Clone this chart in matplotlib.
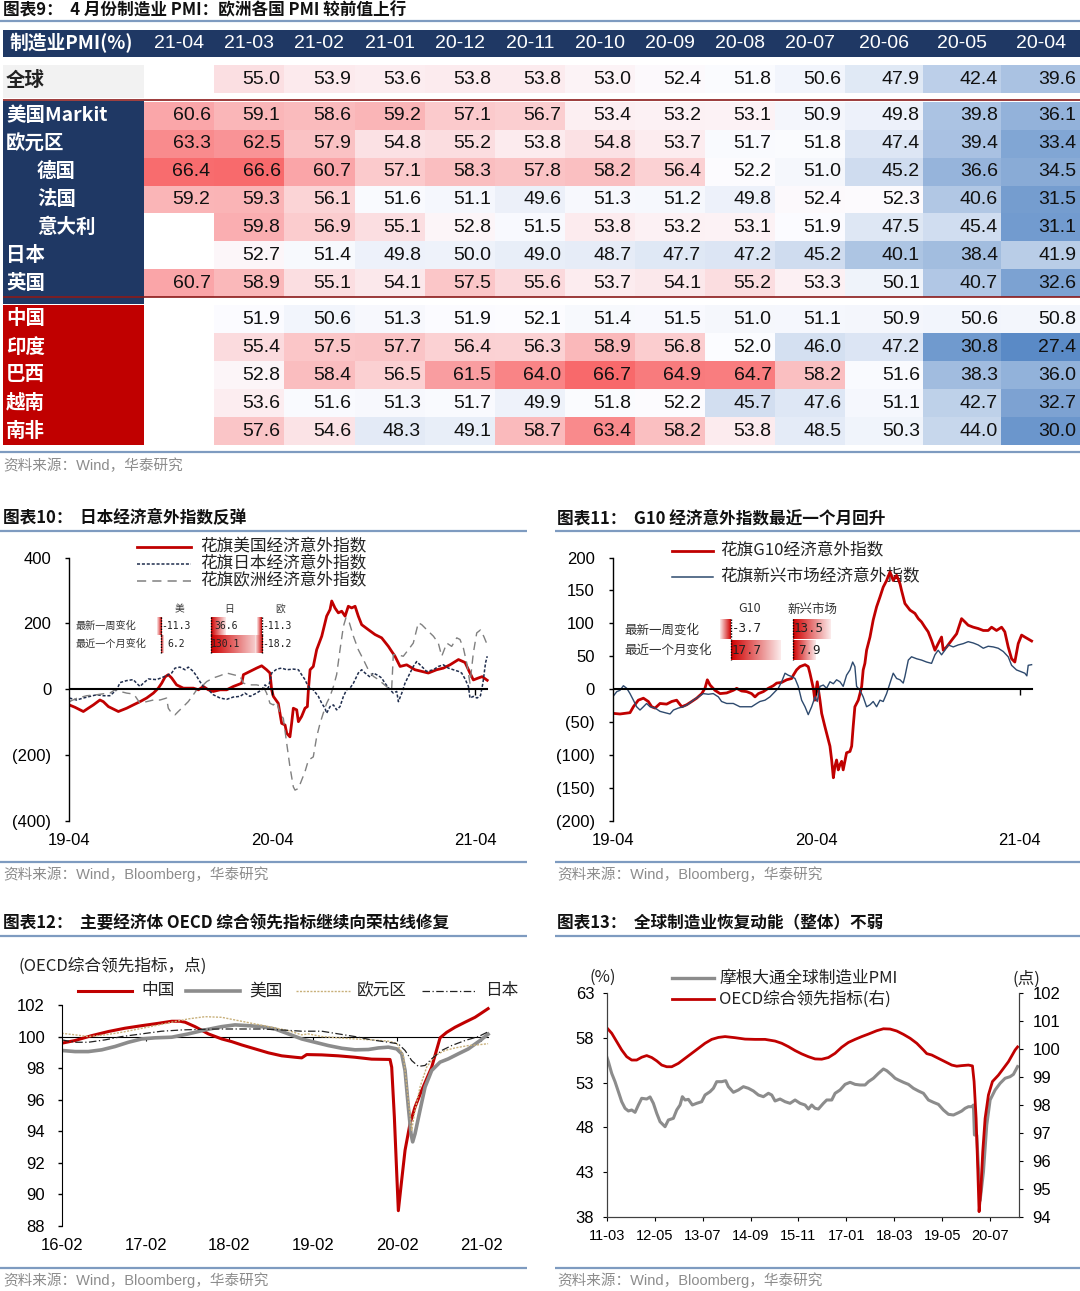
import numpy as np
import matplotlib
matplotlib.use('Agg')
import matplotlib.pyplot as plt
from matplotlib.patches import Rectangle
from matplotlib.colors import to_rgb

plt.rcParams['font.family'] = ['Liberation Sans', 'Noto Sans CJK SC']
plt.rcParams['axes.unicode_minus'] = False
CJK = ['Noto Sans CJK SC', 'Liberation Sans']
W, H = 1080, 1291

# ---------------- table data (PMI) ----------------
months = ['21-04', '21-03', '21-02', '21-01', '20-12', '20-11', '20-10',
          '20-09', '20-08', '20-07', '20-06', '20-05', '20-04']
pmi_global = [None, 55.0, 53.9, 53.6, 53.8, 53.8, 53.0, 52.4, 51.8, 50.6, 47.9, 42.4, 39.6]
pmi_us = [60.6, 59.1, 58.6, 59.2, 57.1, 56.7, 53.4, 53.2, 53.1, 50.9, 49.8, 39.8, 36.1]
pmi_ez = [63.3, 62.5, 57.9, 54.8, 55.2, 53.8, 54.8, 53.7, 51.7, 51.8, 47.4, 39.4, 33.4]
pmi_de = [66.4, 66.6, 60.7, 57.1, 58.3, 57.8, 58.2, 56.4, 52.2, 51.0, 45.2, 36.6, 34.5]
pmi_fr = [59.2, 59.3, 56.1, 51.6, 51.1, 49.6, 51.3, 51.2, 49.8, 52.4, 52.3, 40.6, 31.5]
pmi_it = [None, 59.8, 56.9, 55.1, 52.8, 51.5, 53.8, 53.2, 53.1, 51.9, 47.5, 45.4, 31.1]
pmi_jp = [None, 52.7, 51.4, 49.8, 50.0, 49.0, 48.7, 47.7, 47.2, 45.2, 40.1, 38.4, 41.9]
pmi_uk = [60.7, 58.9, 55.1, 54.1, 57.5, 55.6, 53.7, 54.1, 55.2, 53.3, 50.1, 40.7, 32.6]
pmi_cn = [None, 51.9, 50.6, 51.3, 51.9, 52.1, 51.4, 51.5, 51.0, 51.1, 50.9, 50.6, 50.8]
pmi_in = [None, 55.4, 57.5, 57.7, 56.4, 56.3, 58.9, 56.8, 52.0, 46.0, 47.2, 30.8, 27.4]
pmi_br = [None, 52.8, 58.4, 56.5, 61.5, 64.0, 66.7, 64.9, 64.7, 58.2, 51.6, 38.3, 36.0]
pmi_vn = [None, 53.6, 51.6, 51.3, 51.7, 49.9, 51.8, 52.2, 45.7, 47.6, 51.1, 42.7, 32.7]
pmi_za = [None, 57.6, 54.6, 48.3, 49.1, 58.7, 63.4, 58.2, 53.8, 48.5, 50.3, 44.0, 30.0]

dev_rows = [('美国Markit', pmi_us, 0), ('欧元区', pmi_ez, 0), ('德国', pmi_de, 1),
            ('法国', pmi_fr, 1), ('意大利', pmi_it, 1), ('日本', pmi_jp, 0), ('英国', pmi_uk, 0)]
em_rows = [('中国', pmi_cn), ('印度', pmi_in), ('巴西', pmi_br), ('越南', pmi_vn), ('南非', pmi_za)]

# ---------------- chart 10: Citi surprise (months since 19-04, value) ----------------
us_csi = [(0, -48), (0.33, -55), (0.83, -68), (1.12, -58), (1.42, -48), (1.81, -33), (2.01, -38), (2.31, -53),
          (2.90, -68), (3.39, -58), (3.78, -48), (4.18, -38), (4.57, -27), (4.97, -12), (5.26, 3), (5.46, 18),
          (5.66, 37), (5.85, 44), (6.05, 34), (6.34, 13), (6.74, 3), (7.33, 3), (7.63, -2), (7.92, 8),
          (8.22, -2), (8.51, -7), (8.91, -2), (9.30, -2), (9.69, 8), (10.19, 18), (10.29, 44), (10.68, 54),
          (11.07, 64), (11.37, 71), (11.66, 59), (11.86, 49), (11.96, -2), (12.06, -22), (12.35, -43),
          (12.55, -104), (12.75, -109), (12.85, -134), (13.04, -145), (13.14, -104), (13.24, -58), (13.44, -63),
          (13.54, -99), (13.73, -83), (13.93, -58), (14.07, -53), (14.13, -2), (14.23, 59), (14.42, 69),
          (14.62, 120), (14.92, 161), (15.21, 222), (15.41, 242), (15.51, 268), (15.70, 247), (15.90, 232),
          (16.10, 237), (16.30, 222), (16.49, 252), (16.69, 247), (16.89, 252), (17.08, 222), (17.28, 196),
          (17.67, 181), (18.07, 166), (18.46, 156), (18.86, 130), (19.05, 115), (19.25, 100), (19.55, 69),
          (19.94, 74), (20.43, 59), (20.83, 54), (21.22, 49), (21.71, 59), (22.11, 64), (22.50, 74), (23.0, 90),
          (23.39, 81), (23.59, 59), (23.88, 28), (24.18, 34), (24.4, 38), (24.7, 27)]
jp_csi = [(0, -27), (0.43, -33), (0.83, -27), (1.22, -22), (1.62, -17), (2.01, -20), (2.40, -20), (2.80, -2),
          (3.0, 20), (3.39, 26), (3.78, 29), (3.98, 18), (4.18, 8), (4.37, 18), (4.67, 31), (5.16, 29), (5.56, 37),
          (5.75, 41), (6.05, 49), (6.25, 64), (6.54, 67), (6.84, 59), (7.03, 67), (7.33, 54), (7.53, 39),
          (7.72, 23), (7.92, 8), (8.22, -2), (8.51, -17), (8.91, -27), (9.30, -31), (9.69, -24), (10.09, -22),
          (10.38, -12), (10.68, -22), (11.07, -12), (11.37, -2), (11.57, 13), (11.76, 3), (11.96, 49), (12.26, 61),
          (12.55, 64), (12.85, 59), (13.24, 61), (13.54, 59), (13.73, 44), (13.93, 29), (14.07, 13), (14.23, 3),
          (14.42, -2), (14.72, -22), (14.92, -43), (15.11, -58), (15.21, -73), (15.41, -53), (15.61, -48),
          (15.80, -63), (16.0, -53), (16.20, -22), (16.39, -2), (16.59, 3), (16.79, 18), (17.08, 49), (17.28, 59),
          (17.48, 49), (17.77, 37), (17.97, 49), (18.27, 41), (18.46, 34), (18.66, 18), (18.96, -2), (19.15, -12),
          (19.35, -7), (19.45, -38), (19.65, -12), (19.84, 18), (20.04, 39), (20.33, 69), (20.53, 84), (20.83, 69),
          (21.12, 54), (21.52, 59), (21.81, 69), (22.11, 74), (22.40, 64), (22.70, 59), (23.0, 54), (23.19, 49),
          (23.39, 31), (23.59, 8), (23.68, -27), (23.88, -22), (24.1, -27), (24.3, -20), (24.45, 20), (24.6, 80),
          (24.7, 100)]
eu_csi = [(0, -38), (0.43, -28), (1.02, -20), (1.62, -17), (2.01, -14), (2.40, -12), (2.70, -2), (3.0, -7),
          (3.39, -12), (3.68, -14), (3.88, -20), (4.18, -43), (4.57, -38), (4.97, -33), (5.36, -33), (5.75, -27),
          (5.85, -58), (6.05, -73), (6.25, -78), (6.44, -68), (6.74, -53), (7.03, -38), (7.33, -17), (7.53, -2),
          (7.82, 8), (8.12, 23), (8.51, 34), (8.91, 41), (9.30, 49), (9.69, 44), (10.09, 39), (10.29, 18),
          (10.68, 13), (11.07, 13), (11.47, 8), (11.66, -12), (11.86, -43), (12.06, -48), (12.26, -38),
          (12.45, -73), (12.65, -89), (12.85, -165), (13.04, -236), (13.24, -297), (13.34, -307), (13.54, -302),
          (13.73, -277), (13.93, -251), (14.13, -216), (14.42, -206), (14.62, -145), (14.82, -104), (15.01, -73),
          (15.21, -43), (15.41, -22), (15.61, 8), (15.80, 44), (16.0, 120), (16.20, 191), (16.35, 217),
          (16.55, 202), (16.79, 161), (17.08, 120), (17.38, 90), (17.67, 59), (17.97, 39), (18.27, 29),
          (18.56, 16), (18.86, 3), (19.05, -2), (19.15, 105), (19.35, 105), (19.74, 100), (20.04, 120),
          (20.33, 140), (20.63, 202), (20.83, 196), (21.12, 181), (21.52, 161), (21.81, 140), (22.01, 100),
          (22.31, 140), (22.60, 130), (22.90, 156), (23.09, 151), (23.29, 125), (23.49, 79), (23.68, 18),
          (23.88, 110), (24.08, 171), (24.3, 180), (24.5, 160), (24.7, 135)]
c10_cols = ['美', '日', '欧']
c10_week = [-11.3, 36.6, -11.3]
c10_month = [6.2, 130.1, -18.2]

# ---------------- chart 11 ----------------
g10_csi = [(0, -37), (0.43, -38), (1.02, -36), (1.22, -27), (1.51, -17), (1.81, -14), (2.10, -19), (2.30, -27),
           (2.50, -29), (2.79, -22), (3.18, -23), (3.48, -19), (3.77, -17), (4.07, -27), (4.36, -24), (4.66, -19),
           (4.95, -14), (5.25, -7), (5.44, 1), (5.58, 14), (5.74, 6), (6.03, -2), (6.33, -7), (6.72, -6),
           (7.11, -2), (7.31, 1), (7.60, -3), (7.90, -4), (8.19, -7), (8.39, -12), (8.59, -7), (8.88, -4),
           (9.17, 1), (9.47, 5), (9.67, 9), (9.96, 10), (10.26, 14), (10.55, 16), (10.65, 21), (10.84, 29),
           (11.04, 34), (11.34, 37), (11.53, 34), (11.63, 24), (11.83, 1), (11.92, -17), (12.06, 11), (12.22, -17),
           (12.32, -37), (12.51, -57), (12.61, -67), (12.81, -87), (12.91, -108), (13.01, -135), (13.10, -118),
           (13.20, -108), (13.30, -123), (13.40, -115), (13.50, -110), (13.59, -123), (13.79, -97), (13.99, -95),
           (14.09, -87), (14.18, -57), (14.28, -27), (14.38, -22), (14.48, -17), (14.58, -7), (14.68, 4),
           (14.77, 29), (14.87, 39), (14.97, 59), (15.17, 79), (15.36, 105), (15.56, 125), (15.76, 140),
           (15.95, 155), (16.15, 165), (16.35, 178), (16.54, 165), (16.74, 173), (16.94, 160), (17.03, 150),
           (17.23, 130), (17.53, 120), (17.82, 115), (18.02, 107), (18.21, 102), (18.41, 94), (18.60, 87),
           (18.80, 74), (19.0, 59), (19.19, 69), (19.39, 79), (19.49, 59), (19.69, 64), (19.98, 74), (20.28, 84),
           (20.57, 107), (20.77, 102), (20.96, 97), (21.26, 94), (21.55, 92), (21.85, 89), (22.14, 89),
           (22.34, 94), (22.63, 89), (22.93, 94), (23.12, 87), (23.32, 64), (23.52, 46), (23.71, 41), (23.91, 69),
           (24.11, 82), (24.30, 79), (24.5, 76), (24.7, 73)]
em_csi = [(0, -12), (0.24, -4), (0.43, -2), (0.63, 5), (0.83, 1), (1.02, -7), (1.22, -17), (1.41, -27),
          (1.61, -32), (1.81, -27), (2.0, -22), (2.20, -27), (2.50, -29), (2.79, -34), (3.08, -36), (3.38, -38),
          (3.58, -32), (3.87, -29), (4.17, -27), (4.46, -23), (4.75, -17), (5.05, -12), (5.34, -7), (5.64, -8),
          (5.93, -7), (6.23, -12), (6.42, -19), (6.72, -22), (7.11, -22), (7.50, -27), (7.90, -27), (8.19, -27),
          (8.49, -22), (8.68, -19), (8.98, -17), (9.27, -12), (9.57, -4), (9.76, 1), (9.96, 11), (10.16, 24),
          (10.35, 21), (10.55, 19), (10.75, 16), (10.94, 4), (11.14, -17), (11.34, -27), (11.53, -39),
          (11.73, -27), (11.93, -12), (12.06, -19), (12.22, 4), (12.42, 6), (12.61, 1), (12.81, 11), (13.01, 8),
          (13.20, 14), (13.40, 11), (13.59, 4), (13.79, 21), (13.99, 29), (14.15, 41), (14.28, 34), (14.38, 4),
          (14.58, -2), (14.77, -12), (14.97, -27), (15.17, -24), (15.36, -19), (15.56, -27), (15.76, -17),
          (15.95, -19), (16.15, -7), (16.35, 9), (16.54, 24), (16.74, 16), (16.94, 14), (17.13, 9), (17.23, 19),
          (17.43, 44), (17.62, 49), (17.92, 46), (18.21, 44), (18.51, 41), (18.80, 39), (19.0, 52), (19.19, 59),
          (19.39, 52), (19.59, 59), (19.78, 67), (20.08, 64), (20.37, 67), (20.67, 69), (20.96, 72), (21.26, 70),
          (21.55, 67), (21.85, 62), (22.14, 65), (22.44, 64), (22.73, 62), (23.03, 57), (23.32, 49), (23.52, 36),
          (23.81, 29), (24.11, 26), (24.30, 24), (24.42, 20), (24.5, 36), (24.7, 37)]
c11_cols = ['G10', '新兴市场']
c11_week = [-3.7, 13.5]
c11_month = [17.7, 7.9]

# ---------------- chart 12: OECD CLI (months since 16-02) ----------------
cli_cn = [(0, 99.58), (1.91, 99.75), (4.29, 100.06), (6.68, 100.32), (9.06, 100.53), (11.44, 100.69),
          (13.83, 100.84), (15.74, 100.97), (16.93, 100.97), (17.65, 100.91), (19.07, 100.63), (20.98, 100.17),
          (22.89, 99.85), (24.32, 99.68), (25.75, 99.47), (27.66, 99.22), (29.57, 98.97), (31.48, 98.78),
          (33.38, 98.69), (34.34, 98.65), (35.05, 98.86), (37.20, 98.84), (39.58, 98.78), (41.96, 98.69),
          (44.35, 98.57), (46.97, 98.55), (47.21, 98.06), (47.59, 94.91), (47.93, 91.33), (48.16, 88.97),
          (48.64, 90.91), (49.12, 92.80), (49.83, 94.48), (50.55, 95.54), (51.50, 96.59), (52.93, 98.06),
          (54.13, 99.92), (55.08, 100.27), (56.27, 100.59), (57.70, 100.91), (59.13, 101.22), (59.85, 101.43),
          (61.0, 101.77)]
cli_us = [(0, 99.12), (1.91, 99.05), (3.81, 99.05), (5.72, 99.16), (7.63, 99.37), (9.54, 99.64), (11.44, 99.85),
          (13.35, 99.92), (15.74, 99.96), (18.12, 100.17), (20.51, 100.42), (22.89, 100.63), (24.80, 100.74),
          (26.71, 100.69), (28.61, 100.63), (30.52, 100.48), (32.43, 100.17), (34.34, 99.85), (36.24, 99.64),
          (38.15, 99.43), (40.06, 99.26), (41.96, 99.16), (43.87, 99.18), (45.30, 99.28), (46.73, 99.33),
          (47.93, 99.22), (48.64, 98.91), (49.12, 97.85), (49.59, 95.54), (49.97, 93.85), (50.21, 93.33),
          (50.55, 93.85), (51.26, 95.33), (51.98, 96.80), (52.93, 97.85), (54.13, 98.38), (55.32, 98.59),
          (56.75, 98.91), (58.18, 99.22), (59.85, 99.75), (61.0, 100.15)]
cli_ez = [(0, 100.21), (1.91, 100.11), (3.81, 100.0), (6.2, 100.11), (8.58, 100.27), (10.97, 100.48),
          (13.35, 100.69), (15.74, 100.91), (18.12, 101.12), (20.51, 101.26), (22.89, 101.22), (25.27, 101.01),
          (27.66, 100.80), (30.04, 100.59), (32.43, 100.38), (34.34, 100.11), (35.29, 100.17), (37.20, 100.0),
          (39.58, 99.92), (41.96, 99.85), (44.35, 99.79), (46.73, 99.71), (47.93, 99.58), (48.88, 98.80),
          (49.59, 95.96), (50.07, 94.06), (50.55, 95.33), (51.26, 96.80), (52.21, 98.06), (53.41, 98.80),
          (54.84, 99.12), (56.27, 99.28), (58.18, 99.43), (59.85, 99.49), (61.0, 99.55)]
cli_jp = [(0, 99.79), (1.91, 99.64), (3.81, 99.64), (6.2, 99.79), (8.58, 100.0), (11.44, 100.17), (14.31, 100.34),
          (17.17, 100.42), (20.03, 100.46), (22.89, 100.48), (25.75, 100.48), (28.61, 100.48), (31.48, 100.42),
          (34.34, 100.34), (37.20, 100.34), (39.58, 100.17), (41.96, 100.0), (44.35, 99.79), (46.73, 99.64),
          (48.16, 99.54), (49.12, 99.12), (50.07, 98.48), (51.03, 98.11), (51.98, 98.17), (52.93, 98.59),
          (54.36, 99.12), (55.79, 99.43), (57.70, 99.75), (59.61, 100.0), (61.0, 100.3)]

# ---------------- chart 13 (months since 11-03) ----------------
jpm_pmi = [(0, 55.91), (0.49, 55.35), (1.46, 54.04), (2.43, 53.11), (3.41, 51.99), (4.38, 50.87), (5.36, 50.13),
           (6.33, 49.83), (7.30, 49.94), (8.28, 49.68), (9.25, 50.50), (10.22, 51.25), (11.68, 51.17),
           (12.66, 51.40), (13.63, 50.69), (14.61, 49.57), (15.58, 48.63), (17.04, 48.07), (18.01, 48.82),
           (19.47, 49.01), (20.45, 49.94), (21.42, 50.50), (22.10, 51.43), (22.88, 51.06), (23.86, 51.13),
           (25.02, 50.50), (26.29, 50.69), (27.75, 50.87), (28.72, 51.62), (30.18, 51.99), (31.16, 52.37),
           (32.13, 53.11), (33.59, 53.11), (34.76, 53.22), (35.54, 52.55), (37.0, 51.92), (38.46, 52.18),
           (39.92, 52.55), (41.38, 52.37), (42.84, 52.07), (44.30, 51.62), (45.76, 51.43), (47.22, 51.81),
           (48.20, 51.62), (49.17, 50.95), (50.63, 51.17), (52.09, 50.87), (53.55, 50.69), (55.01, 51.06),
           (56.48, 50.69), (57.94, 50.50), (58.91, 50.05), (59.88, 50.50), (60.86, 50.13), (61.83, 50.05),
           (63.29, 50.69), (64.26, 51.06), (65.73, 51.06), (66.70, 51.81), (68.16, 52.18), (69.62, 52.81),
           (71.08, 53.04), (72.54, 52.81), (74.0, 52.74), (75.46, 52.74), (76.44, 53.11), (77.90, 53.49),
           (79.36, 54.04), (80.82, 54.53), (81.79, 54.34), (83.25, 53.86), (84.23, 53.49), (85.20, 53.30),
           (86.66, 53.04), (88.12, 52.81), (89.58, 52.37), (91.04, 52.07), (92.50, 51.81), (93.96, 51.06),
           (95.42, 50.80), (96.88, 50.57), (98.34, 49.94), (99.81, 49.46), (101.27, 49.38), (102.73, 49.64),
           (103.70, 49.83), (104.67, 50.13), (105.65, 50.31), (106.62, 50.31), (107.11, 50.50), (107.40, 47.14),
           (108.08, 47.14), (109.06, 39.8), (110.03, 43.0), (111.0, 48.26), (111.98, 51.06), (112.46, 51.43),
           (113.44, 52.18), (114.90, 52.93), (116.36, 53.49), (117.82, 53.67), (118.79, 53.93), (120.0, 54.8)]
cli_total = [(0, 100.77), (1.46, 100.57), (2.92, 100.27), (4.38, 99.97), (5.84, 99.73), (7.30, 99.61),
             (8.76, 99.61), (10.22, 99.71), (11.68, 99.77), (13.15, 99.70), (14.61, 99.58), (16.07, 99.43),
             (17.53, 99.37), (18.99, 99.37), (20.93, 99.49), (22.88, 99.67), (24.83, 99.85), (26.78, 100.03),
             (28.72, 100.21), (30.67, 100.35), (32.62, 100.42), (34.57, 100.45), (37.49, 100.41), (40.41, 100.36),
             (43.33, 100.35), (46.25, 100.35), (49.17, 100.29), (51.12, 100.21), (53.07, 100.09), (55.01, 99.95),
             (56.96, 99.83), (58.91, 99.73), (60.86, 99.65), (62.80, 99.64), (64.75, 99.70), (66.70, 99.85),
             (68.65, 100.07), (70.59, 100.24), (72.54, 100.35), (74.49, 100.45), (76.44, 100.54), (78.87, 100.66),
             (80.82, 100.73), (82.77, 100.72), (84.71, 100.65), (86.66, 100.53), (88.61, 100.39), (90.56, 100.21),
             (92.50, 99.97), (93.48, 99.84), (94.94, 99.79), (96.88, 99.67), (98.83, 99.55), (100.78, 99.43),
             (102.24, 99.39), (103.70, 99.41), (105.65, 99.43), (106.82, 99.40), (107.30, 98.84), (107.89, 97.52),
             (108.37, 95.73), (108.76, 94.18), (109.25, 94.90), (109.83, 96.33), (110.52, 97.52), (111.49, 98.36),
             (112.66, 98.84), (114.41, 99.07), (115.87, 99.31), (117.33, 99.55), (119.28, 99.97), (120.0, 100.08)]

NAVY = '#1F3864'
RED = '#C00000'
LINE = '#7E9BC0'
SRC = '#8C8C8C'

fig = plt.figure(figsize=(W / 100, H / 100), dpi=100)
bg = fig.add_axes([0, 0, 1, 1])
bg.set_xlim(0, W)
bg.set_ylim(H, 0)
bg.set_autoscale_on(False)
bg.axis('off')


def px_axes(l, t, r, b):
    ax = fig.add_axes([l / W, 1 - b / H, (r - l) / W, (b - t) / H])
    ax.patch.set_alpha(0)
    return ax


def title(x, y, s):
    bg.text(x, y, s, fontsize=12, fontweight='bold', family=CJK, va='center', ha='left', color='#111111')


def hline(x0, x1, y, color=LINE, lw=1.6):
    bg.plot([x0, x1], [y, y], color=color, lw=lw, solid_capstyle='butt')


def source(x, y, s):
    bg.text(x, y, s, fontsize=10.5, color=SRC, va='center', ha='left')


# ================= table =================
title(3, 10, '图表9：  4 月份制造业 PMI：欧洲各国 PMI 较前值上行')
hline(0, W, 21)

col_edges = [144, 214, 284, 354.5, 424.5, 494.8, 564.8, 634.7, 704.6, 775.2, 845.1, 923.3, 1001.4, 1080]
all_vals = np.array([v for r in [pmi_global] + [d[1] for d in dev_rows] + [e[1] for e in em_rows]
                     for v in r if v is not None])
vmin, vmid, vmax = all_vals.min(), np.percentile(all_vals, 50), all_vals.max()
c_lo, c_mid, c_hi = np.array(to_rgb('#5A8AC6')), np.array(to_rgb('#FCFCFF')), np.array(to_rgb('#F8696B'))


def cell_color(v):
    if v >= vmid:
        return c_mid + (c_hi - c_mid) * (v - vmid) / (vmax - vmid)
    return c_mid + (c_lo - c_mid) * (vmid - v) / (vmid - vmin)


def value_row(vals, top, bottom):
    for j, v in enumerate(vals):
        if v is None:
            continue
        x0, x1 = col_edges[j], col_edges[j + 1]
        bg.add_patch(Rectangle((x0, top), x1 - x0, bottom - top, color=cell_color(v), lw=0))
        bg.text(x1 - 3.5, (top + bottom) / 2, f'{v:.1f}', fontsize=14, ha='right', va='center', color='#111111')


# header
bg.add_patch(Rectangle((3, 30), W - 3, 27, color=NAVY, lw=0))
bg.text(10, 43.5, '制造业PMI(%)', fontsize=13.5, fontweight='bold', family=CJK, color='white', va='center')
for j, m in enumerate(months):
    bg.text((col_edges[j] + col_edges[j + 1]) / 2, 44, m, fontsize=14, color='white', ha='center', va='center')

# global row
bg.add_patch(Rectangle((3, 65), 141, 33, color='#F2F2F2', lw=0))
bg.text(6, 80, '全球', fontsize=14, fontweight='bold', family=CJK, color='#222222', va='center')
value_row(pmi_global, 65, 93)

# developed block
hline(3, W, 100, color='#8B1A1A', lw=1.2)
bg.add_patch(Rectangle((3, 101), 141, 203, color=NAVY, lw=0))
rh = (297 - 102) / len(dev_rows)
for i, (name, vals, indent) in enumerate(dev_rows):
    top = 102 + i * rh
    value_row(vals, top, top + rh)
    bg.text(37 if indent else 6, top + rh / 2, name, fontsize=14, fontweight='bold', family=CJK,
            color='white', va='center')
hline(3, W, 297, color='#8B1A1A', lw=1.2)

# emerging block
bg.add_patch(Rectangle((3, 304.5), 141, 140.5, color=RED, lw=0))
for i, (name, vals) in enumerate(em_rows):
    top = 305 + i * 28
    value_row(vals, top, top + 28)
    bg.text(6, top + 14, name, fontsize=14, fontweight='bold', family=CJK, color='white', va='center')
hline(0, W, 452)
source(3, 466, '资料来源：Wind，华泰研究')


# ================= helpers for mini tables =================
def data_bar(x_axis, val, scale, y0, y1):
    w = val * scale
    t = np.linspace(0, 1, 64)[:, None]
    cols = (1 - 0.92 * t) * np.array(to_rgb('#D00000')) + 0.92 * t * np.ones(3)
    if w < 0:
        cols = cols[::-1]
    left, right = min(x_axis, x_axis + w), max(x_axis, x_axis + w)
    bg.imshow(cols[None, :, :], extent=(left, right, y1, y0), aspect='auto', interpolation='bilinear', zorder=2)
    bg.plot([x_axis, x_axis], [y0, y1], color='black', lw=1, ls=(0, (1, 1)), zorder=3)


def csi_axes(ax, labels_y, ticks_y):
    for s in ['top', 'right', 'bottom']:
        ax.spines[s].set_visible(False)
    ax.spines['left'].set_linewidth(1)
    ax.set_xlim(0, 25)
    ax.set_yticks(ticks_y)
    ax.set_yticklabels(labels_y)
    ax.set_xticks([0, 12, 24])
    ax.set_xticklabels(['19-04', '20-04', '21-04'])
    ax.tick_params(axis='x', length=0, pad=9, labelsize=12)
    ax.tick_params(axis='y', length=3, width=1, pad=10, labelsize=12, direction='out')


# ================= chart 10 =================
title(3, 518, '图表10：  日本经济意外指数反弹')
hline(0, 527, 531)
ax10 = px_axes(69.3, 557.6, 69.3 + 25 * 16.92, 820.7)
ax10.set_ylim(-400, 400)
csi_axes(ax10, ['400', '200', '0', '(200)', '(400)'], [400, 200, 0, -200, -400])
for series, kw in [(us_csi, dict(color=RED, lw=2.0)),
                   (jp_csi, dict(color='#1F2D4D', lw=1.1, dashes=(2, 1.2))),
                   (eu_csi, dict(color='#808080', lw=1.0, dashes=(6, 4)))]:
    x, y = np.array(series).T
    ax10.plot(x, y, **kw)
end10 = max(np.array(us_csi)[:, 0].max(), np.array(eu_csi)[:, 0].max())
ax10.plot([0, end10], [0, 0], color='black', lw=1.5, zorder=5)
ax10.vlines([12, 24], -18, 0, color='black', lw=1, zorder=5)

for y, txt, ls, col in [(546.5, '花旗美国经济意外指数', '-', RED),
                        (563.5, '花旗日本经济意外指数', (0, (2, 1.2)), '#1F2D4D'),
                        (580.5, '花旗欧洲经济意外指数', (0, (6, 4)), '#808080')]:
    bg.plot([137, 191], [y, y], color=col, lw=2.0 if ls == '-' else 1.1, ls=ls)
    bg.text(200, y, txt, fontsize=12, family=CJK, va='center', color='#222222')

c10_axis = [161, 211, 261.7]
c10_center = [176, 226, 277]
for k, name in enumerate(c10_cols):
    bg.text(c10_center[k] + 3, 609, name, fontsize=7, family=CJK, ha='center', va='center', color='#333333')
    for v, (y0, y1) in [(c10_week[k], (617, 635)), (c10_month[k], (635, 653))]:
        data_bar(c10_axis[k], v, 0.39, y0, y1)
        bg.text(c10_center[k], (y0 + y1) / 2, f'{v:.1f}', fontsize=7, family=['DejaVu Sans Mono'],
                ha='center', va='center', color='#222222', zorder=4)
bg.text(76, 626, '最新一周变化', fontsize=7.3, family=CJK, va='center', color='#333333')
bg.text(76, 644, '最近一个月变化', fontsize=7.3, family=CJK, va='center', color='#333333')

hline(0, 527, 862)
source(3, 874, '资料来源：Wind，Bloomberg，华泰研究')

# ================= chart 11 =================
title(557, 518, '图表11：  G10 经济意外指数最近一个月回升')
hline(555, W, 531)
ax11 = px_axes(612.7, 557.5, 612.7 + 25 * 16.96, 820.5)
ax11.set_ylim(-200, 200)
csi_axes(ax11, ['200', '150', '100', '50', '0', '(50)', '(100)', '(150)', '(200)'],
         [200, 150, 100, 50, 0, -50, -100, -150, -200])
x, y = np.array(g10_csi).T
ax11.plot(x, y, color=RED, lw=2.0)
x, y = np.array(em_csi).T
ax11.plot(x, y, color='#2E4A6E', lw=1.0)
end11 = np.array(g10_csi)[:, 0].max()
ax11.plot([0, end11], [0, 0], color='black', lw=1.5, zorder=5)
ax11.vlines([12, 24], -9, 0, color='black', lw=1, zorder=5)

for y, txt, col, lw in [(551, '花旗G10经济意外指数', RED, 2.0), (577, '花旗新兴市场经济意外指数', '#2E4A6E', 1.1)]:
    bg.plot([672, 713], [y, y], color=col, lw=lw)
    bg.text(720, y, txt, fontsize=12, family=CJK, va='center', color='#222222')

c11_axis = [730.7, 793.3]
c11_center = [747, 809]
c11_head = [750, 812]
for k, name in enumerate(c11_cols):
    bg.text(c11_head[k], 609, name, fontsize=9, family=CJK, ha='center', va='center', color='#333333')
    for v, (y0, y1) in [(c11_week[k], (619, 639)), (c11_month[k], (640, 660))]:
        data_bar(c11_axis[k], v, 2.79, y0, y1)
        bg.text(c11_center[k], (y0 + y1) / 2, f'{v:.1f}', fontsize=9, family=['DejaVu Sans Mono'],
                ha='center', va='center', color='#222222', zorder=4)
bg.text(624, 630, '最新一周变化', fontsize=9, family=CJK, va='center', color='#333333')
bg.text(624, 650.5, '最近一个月变化', fontsize=9, family=CJK, va='center', color='#333333')

hline(555, W, 862)
source(557, 874, '资料来源：Wind，Bloomberg，华泰研究')

# ================= chart 12 =================
title(3, 923, '图表12：  主要经济体 OECD 综合领先指标继续向荣枯线修复')
hline(0, 527, 936)
ax12 = px_axes(61.7, 1005, 61.7 + 62 * 6.99, 1226)
for s in ['top', 'right', 'bottom']:
    ax12.spines[s].set_visible(False)
ax12.set_xlim(0, 62)
ax12.set_ylim(88, 102)
ax12.set_yticks(range(88, 103, 2))
ax12.set_xticks([0, 12, 24, 36, 48, 60])
ax12.set_xticklabels(['16-02', '17-02', '18-02', '19-02', '20-02', '21-02'])
ax12.tick_params(axis='x', length=0, pad=9, labelsize=12)
ax12.tick_params(axis='y', length=3, width=1, pad=9, labelsize=12, direction='out')
ax12.plot([0, 61], [100, 100], color='black', lw=0.8)
ax12.vlines([12, 24, 36, 48, 60], 99.75, 100, color='black', lw=0.8)
styles12 = [(cli_cn, dict(color=RED, lw=2.2)),
            (cli_us, dict(color='#8C8C8C', lw=2.6)),
            (cli_ez, dict(color='#C8B07A', lw=1.0, dashes=(1.5, 1))),
            (cli_jp, dict(color='#222222', lw=0.9, dashes=(6, 2, 1, 2)))]
for series, kw in styles12:
    x, y = np.array(series).T
    ax12.plot(x, y, **kw)

bg.text(18, 966, '(OECD综合领先指标，点)', fontsize=12, family=CJK, va='center', color='#222222')
for (x0, x1, tx, txt), (_, kw) in zip([(78, 132, 141, '中国'), (186, 240, 249, '美国'),
                                       (296, 350, 357, '欧元区'), (422, 476, 485, '日本')], styles12):
    bg.plot([x0, x1], [991, 991], **kw)
    bg.text(tx, 991, txt, fontsize=12, family=CJK, va='center', color='#222222')

hline(0, 527, 1268)
source(3, 1280, '资料来源：Wind，Bloomberg，华泰研究')

# ================= chart 13 =================
title(557, 923, '图表13：  全球制造业恢复动能（整体）不弱')
hline(555, W, 936)
ax13 = px_axes(606.7, 993.3, 1018.6, 1216.7)
ax13.set_xlim(0, 120.3)
ax13.set_ylim(38, 63)
ax13.set_yticks([38, 43, 48, 53, 58, 63])
ax13.set_xticks(range(0, 113, 14))
ax13.set_xticklabels(['11-03', '12-05', '13-07', '14-09', '15-11', '17-01', '18-03', '19-05', '20-07'])
ax13.tick_params(axis='x', length=3, width=0.8, pad=6, labelsize=10.5, direction='out')
ax13.tick_params(axis='y', length=3, width=0.8, pad=6, labelsize=12, direction='out')
ax13.spines['top'].set_visible(False)
for s in ['left', 'right', 'bottom']:
    ax13.spines[s].set_color('#404040')
x, y = np.array(jpm_pmi).T
ax13.plot(x, y, color='#8C8C8C', lw=2.2)
ax13r = ax13.twinx()
ax13r.patch.set_alpha(0)
ax13r.set_ylim(94, 102)
ax13r.set_yticks(range(94, 103))
ax13r.tick_params(axis='y', length=3, width=0.8, pad=7, labelsize=12, direction='out')
ax13r.spines['top'].set_visible(False)
for s in ['left', 'right', 'bottom']:
    ax13r.spines[s].set_color('#404040')
x, y = np.array(cli_total).T
ax13r.plot(x, y, color=RED, lw=2.0)

bg.text(603, 977, '(%)', fontsize=12, family=CJK, ha='center', va='center', color='#222222')
bg.text(1026, 979, '(点)', fontsize=12, family=CJK, ha='center', va='center', color='#222222')
bg.plot([672, 714], [978, 978], color='#8C8C8C', lw=2.4)
bg.text(719, 978, '摩根大通全球制造业PMI', fontsize=12, family=CJK, va='center', color='#222222')
bg.plot([672, 714], [999, 999], color=RED, lw=2.0)
bg.text(719, 999, 'OECD综合领先指标(右)', fontsize=12, family=CJK, va='center', color='#222222')

hline(555, W, 1268)
source(557, 1280, '资料来源：Wind，Bloomberg，华泰研究')

fig.savefig('out.png', dpi=100)
